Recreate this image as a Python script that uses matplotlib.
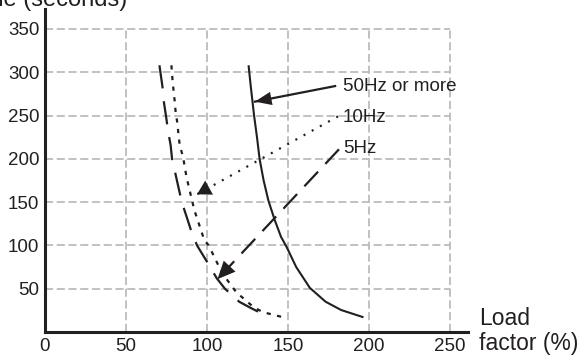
import matplotlib
matplotlib.use("Agg")
import matplotlib.pyplot as plt

plt.rcParams['font.family'] = ['Liberation Sans', 'DejaVu Sans']

# ---- data ----
x_ticks = [0, 50, 100, 150, 200, 250]
y_ticks = [50, 100, 150, 200, 250, 300, 350]

# 50Hz or more (solid)
x_50hz = [125.6, 127.0, 129.0, 130.8, 132.4, 134.9, 137.8, 141.8, 145.6, 149.0, 155.0, 163.4, 173.1, 182.7, 196.5]
y_50hz = [308, 283, 250, 225, 200, 175, 152, 129, 110, 98.5, 75, 51, 35, 25.4, 17]

# 10Hz (dotted)
x_10hz = [78.0, 78.6, 79.2, 80.0, 80.6, 81.7, 82.3, 83.1, 85.2, 87.3, 92.1, 98.3, 101.0, 109.3, 118.0, 128.5, 134.3, 147.0]
y_10hz = [308, 293, 281, 267, 254, 241, 229, 216, 202, 179, 141, 106, 100, 68, 46, 29, 23, 17]

# 5Hz (long dash)
x_5hz = [70.6, 72.5, 73.0, 75.0, 76.0, 77.5, 78.4, 83.8, 84.4, 88.1, 90.0, 93.8, 100.0, 106.0, 111.0, 119.8, 126.7, 138.4]
y_5hz = [308, 283, 270, 245, 231, 216, 200, 155, 150, 129, 118, 100, 81, 62, 50, 35, 28, 17]

labels = ["50Hz or more", "10Hz", "5Hz"]
label_xy = [(183.7, 283), (183.7, 248), (183.7, 212)]
arrow_tail = [(179.0, 284), (180.8, 249), (181.4, 211)]
arrow_tip = [(129.5, 266), (93.8, 159), (106.4, 61)]

ink = '#231f20'
grid_c = '#bcbcbc'

fig = plt.figure(figsize=(5.85, 3.56), dpi=100)
ax = fig.add_axes([45/585, 24/356, (468-45)/585, (332-9)/356])
ax.set_xlim(0, 261)
ax.set_ylim(0, 373)

# grid box limited to 0..250 x 0..350
ax.hlines(y_ticks, 0, 250, colors=grid_c, linestyles=(0, (4.5, 2.0)), linewidth=1.3, zorder=1)
ax.vlines(x_ticks[1:], 0, 350, colors=grid_c, linestyles=(0, (4.5, 2.0)), linewidth=1.3, zorder=1)

ax.plot(x_50hz, y_50hz, color=ink, lw=1.5, solid_capstyle='butt', solid_joinstyle='round', zorder=3)
ax.plot(x_10hz, y_10hz, color=ink, lw=1.6, linestyle=(0, (1.9, 2.9)), zorder=3)
ax.plot(x_5hz, y_5hz, color=ink, lw=1.6, linestyle=(0, (10.5, 5.8)), zorder=3)

# arrows: shaft drawn with its own line style, head drawn solid
styles = ['-', (0, (0.9, 3.3)), (0, (9.0, 4.8))]
heads = [(0.75, 0.3), (0.62, 0.36), (0.8, 0.36)]
for (tx, ty), (hx, hy), ls, (hl, hw) in zip(arrow_tail, arrow_tip, styles, heads):
    ax.plot([tx, hx], [ty, hy], color=ink, lw=1.6, linestyle=ls, zorder=3)
    ax.annotate('', xy=(hx, hy), xytext=(tx, ty),
                arrowprops=dict(arrowstyle=f'-|>,head_length={hl},head_width={hw}',
                                color=ink, lw=0.01, mutation_scale=16,
                                shrinkA=0, shrinkB=0), zorder=4)

for (lx, ly), lab in zip(label_xy, labels):
    ax.text(lx, ly, lab, fontsize=13.5, color=ink, ha='left', va='center')

for s in ['top', 'right']:
    ax.spines[s].set_visible(False)
for s in ['left', 'bottom']:
    ax.spines[s].set_linewidth(2.2)
    ax.spines[s].set_color(ink)

ax.set_xticks(x_ticks)
ax.set_yticks(y_ticks)
ax.tick_params(axis='both', length=0, labelsize=13.5, colors=ink)
ax.tick_params(axis='y', pad=4)
ax.tick_params(axis='x', pad=4.5)

fig.text(127/585, 1 - 6/356, "Time (seconds)", fontsize=17, color=ink,
         ha='right', va='baseline')
fig.text(479/585, 1 - 325/356, "Load", fontsize=16.5, color=ink, ha='left', va='baseline')
fig.text(479/585, 1 - 350/356, "factor (%)", fontsize=16.5, color=ink, ha='left', va='baseline')

fig.savefig("out.png", dpi=100)
